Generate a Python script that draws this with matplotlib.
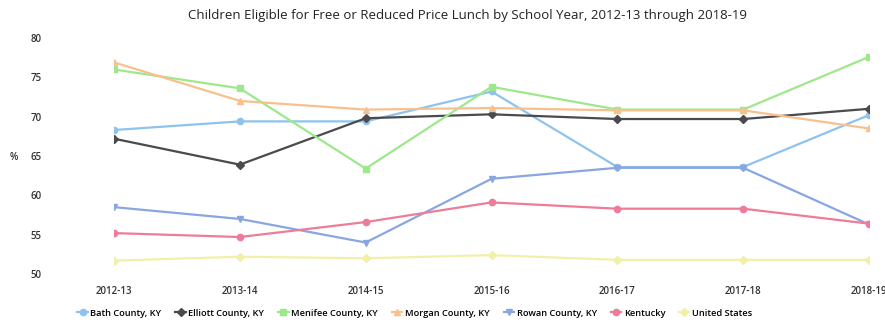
import matplotlib
matplotlib.use("Agg")
import matplotlib.pyplot as plt

years = ["2012-13", "2013-14", "2014-15", "2015-16", "2016-17", "2017-18", "2018-19"]

bath = [68.3, 69.4, 69.4, 73.2, 63.6, 63.6, 70.2]
elliott = [67.2, 63.9, 69.8, 70.3, 69.7, 69.7, 71.0]
menifee = [76.0, 73.6, 63.4, 73.8, 70.9, 70.9, 77.6]
morgan = [76.9, 72.0, 70.9, 71.1, 70.8, 70.8, 68.5]
rowan = [58.5, 57.0, 54.0, 62.1, 63.5, 63.5, 56.3]
kentucky = [55.2, 54.7, 56.6, 59.1, 58.3, 58.3, 56.4]
united_states = [51.7, 52.2, 52.0, 52.4, 51.8, 51.8, 51.8]

names = ["Bath County, KY", "Elliott County, KY", "Menifee County, KY",
         "Morgan County, KY", "Rowan County, KY", "Kentucky", "United States"]
series = [bath, elliott, menifee, morgan, rowan, kentucky, united_states]
colors = ["#8ec3ee", "#4a4a4f", "#9ee88c", "#f8c08e", "#8aa6e2", "#ee7c98", "#f2f0a8"]
markers = ["o", "D", "s", "^", "v", "o", "D"]

plt.rcParams["font.family"] = ["Open Sans", "DejaVu Sans"]

fig = plt.figure(figsize=(8.85, 3.28), dpi=100)
ax = fig.add_axes([114 / 885, 1 - 274 / 328, (869 - 114) / 885, (274 - 38) / 328])

x = list(range(len(years)))
for vals, name, c, m in zip(series, names, colors, markers):
    ax.plot(x, vals, color=c, lw=1.6, marker=m, ms=4.5, label=name)

ax.set_xlim(0, 6)
ax.set_ylim(50, 80)
ax.set_yticks([50, 55, 60, 65, 70, 75, 80])
ax.set_xticks(x)
ax.set_xticklabels(years)
ax.tick_params(length=0, labelsize=7, colors="#333333")
ax.tick_params(axis="y", pad=60)
ax.tick_params(axis="x", pad=9)
for lbl in ax.get_yticklabels() + ax.get_xticklabels():
    lbl.set_fontweight("semibold")
for lbl in ax.get_yticklabels():
    lbl.set_horizontalalignment("left")
for s in ax.spines.values():
    s.set_visible(False)

fig.text(14 / 885, 1 - 157 / 328, "%", fontsize=7, ha="center", va="center",
         color="#333333", fontweight="semibold")
fig.text(468 / 885, 1 - 15 / 328,
         "Children Eligible for Free or Reduced Price Lunch by School Year, 2012-13 through 2018-19",
         fontsize=9.5, ha="center", va="center", color="#222222")

fig.legend(loc="center", bbox_to_anchor=(415 / 885, 1 - 313 / 328), ncol=7, frameon=False,
           fontsize=6.7, handlelength=1.1, handletextpad=0.3, columnspacing=1.5,
           prop={"size": 6.7, "weight": "semibold"})

fig.savefig("out.png", dpi=100)
